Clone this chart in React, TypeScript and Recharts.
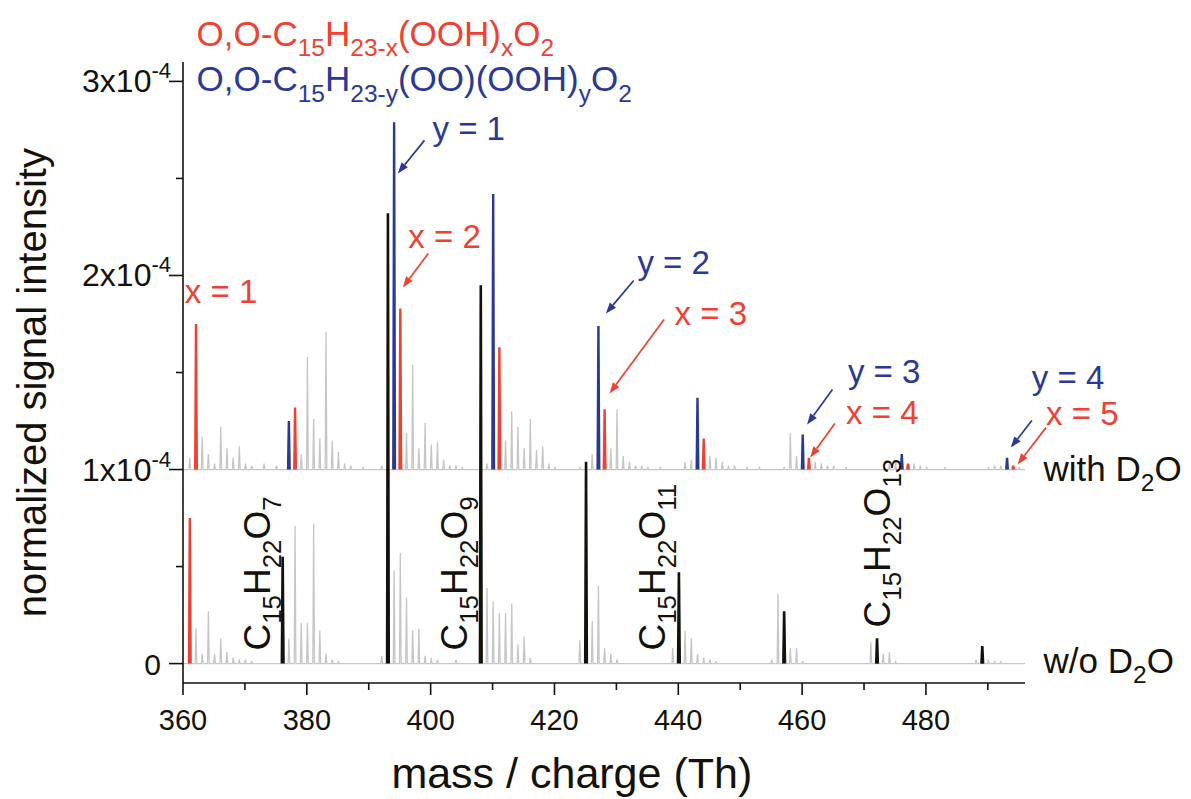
import React from "react";
import { LineChart, Line, XAxis, YAxis, ReferenceLine, ReferenceDot } from "recharts";

const FONT = "'Liberation Sans', Arial, Helvetica, sans-serif";
const RED = "#ef4131";
const BLUE = "#2a3896";
const GRAY = "#c6c6c6";
const BLACK = "#14110a";

// intensities in units of 1x10^-4, measured from each trace's own baseline
const withD2OOffset = 1;

const withD2OGray: [number, number][] = [
  [361.1, 0.06], [363.1, 0.17], [364.1, 0.08], [365.1, 0.03], [366.1, 0.22], [367.1, 0.11],
  [368.1, 0.06], [369.1, 0.12], [370.1, 0.03], [371.1, 0.02], [373.1, 0.03], [375.1, 0.02],
  [379.1, 0.08], [380.1, 0.58], [381.1, 0.26], [382.1, 0.16], [383.1, 0.71], [384.1, 0.15],
  [385.1, 0.09], [386.1, 0.03], [387.1, 0.02], [389.1, 0.01], [392.1, 0.02], [396.1, 0.19],
  [397.1, 0.54], [398.1, 0.11], [399.1, 0.24], [400.1, 0.13], [401.1, 0.14], [402.1, 0.05],
  [403.1, 0.02], [404.1, 0.02], [405.1, 0.01], [409.1, 0.03], [412.1, 0.15], [413.1, 0.3],
  [414.1, 0.22], [415.1, 0.11], [416.1, 0.26], [417.1, 0.1], [418.1, 0.12], [419.1, 0.03],
  [420.1, 0.01], [424.1, 0.01], [426.1, 0.08], [429.1, 0.11], [430.1, 0.31], [431.1, 0.07],
  [432.1, 0.04], [433.1, 0.02], [434.1, 0.02], [435.1, 0.01], [437.1, 0.01], [441.1, 0.04],
  [442.1, 0.05], [445.1, 0.07], [446.1, 0.06], [447.1, 0.04], [448.1, 0.02], [449.1, 0.02],
  [451.1, 0.01], [453.1, 0.01], [457.1, 0.01], [458.1, 0.19], [459.1, 0.07], [462.1, 0.04],
  [463.1, 0.03], [464.1, 0.02], [465.1, 0.02], [467.1, 0.01], [474.1, 0.03], [475.1, 0.04],
  [478.1, 0.03], [479.1, 0.02], [480.1, 0.01], [483.1, 0.01], [490.1, 0.01], [491.1, 0.02],
  [492.1, 0.02], [495.1, 0.01],
];
const withD2ORed: [number, number][] = [
  [362.1, 0.75], [378.1, 0.32], [395.1, 0.83], [411.1, 0.63], [428.1, 0.31],
  [444.1, 0.16], [461.1, 0.06], [477.1, 0.03], [494.1, 0.02],
];
const withD2OBlue: [number, number][] = [
  [377.1, 0.25], [394.1, 1.79], [410.1, 1.42], [427.1, 0.74], [443.1, 0.37],
  [460.1, 0.18], [476.1, 0.08], [493.1, 0.06],
];

const woD2OGray: [number, number][] = [
  [362.1, 0.18], [363.1, 0.05], [364.1, 0.27], [365.1, 0.05], [366.1, 0.13], [367.1, 0.06],
  [368.1, 0.03], [369.1, 0.02], [370.1, 0.02], [371.1, 0.01], [377.1, 0.13], [378.1, 0.71],
  [379.1, 0.21], [380.1, 0.21], [381.1, 0.72], [382.1, 0.17], [383.1, 0.05], [384.1, 0.02],
  [385.1, 0.01], [392.1, 0.04], [394.1, 0.48], [395.1, 0.57], [396.1, 0.34], [397.1, 0.17],
  [398.1, 0.18], [399.1, 0.04], [400.1, 0.03], [401.1, 0.02], [404.1, 0.02], [409.1, 0.39],
  [410.1, 0.32], [411.1, 0.26], [412.1, 0.26], [413.1, 0.31], [414.1, 0.1], [415.1, 0.14],
  [416.1, 0.03], [424.1, 0.12], [426.1, 0.22], [427.1, 0.4], [428.1, 0.08], [429.1, 0.05],
  [430.1, 0.02], [439.1, 0.08], [441.1, 0.17], [442.1, 0.13], [443.1, 0.05], [444.1, 0.03],
  [445.1, 0.02], [446.1, 0.01], [455.1, 0.02], [456.1, 0.36], [458.1, 0.08], [459.1, 0.08],
  [460.1, 0.01], [471.1, 0.11], [473.1, 0.05], [474.1, 0.06], [475.1, 0.01], [488.1, 0.02],
  [490.1, 0.02], [491.1, 0.01], [492.1, 0.01],
];
const woD2ORed: [number, number][] = [[361.1, 0.75]];
const woD2OBlack: [number, number][] = [
  [376.1, 0.55], [393.1, 2.32], [408.1, 1.95], [425.1, 1.04], [440.1, 0.47],
  [457.1, 0.27], [472.1, 0.13], [489.1, 0.09],
];

const mzDomain: [number, number] = [360, 496];
const yDomain: [number, number] = [-0.1, 3.1];
const xTicks = [360, 370, 380, 390, 400, 410, 420, 430, 440, 450, 460, 470, 480, 490];
const yTicks = [0, 0.5, 1, 1.5, 2, 2.5, 3];

// text: alternating normal / subscript pieces
type Note = { mz: number; v: number; parts: string[]; color: string; size: number; rotate?: boolean; anchor?: string };
const notes: Note[] = [
  { mz: 362.2, v: 3.185, parts: ["O,O-C", "15", "H", "23-x", "(OOH)", "x", "O", "2"], color: RED, size: 35 },
  { mz: 362.2, v: 2.95, parts: ["O,O-C", "15", "H", "23-y", "(OO)(OOH)", "y", "O", "2"], color: BLUE, size: 35 },
  { mz: 360.3, v: 1.856, parts: ["x = 1"], color: RED, size: 33 },
  { mz: 400.3, v: 2.696, parts: ["y = 1"], color: BLUE, size: 33 },
  { mz: 396.4, v: 2.139, parts: ["x = 2"], color: RED, size: 33 },
  { mz: 433.4, v: 2.005, parts: ["y = 2"], color: BLUE, size: 33 },
  { mz: 439.4, v: 1.747, parts: ["x = 3"], color: RED, size: 33 },
  { mz: 467.4, v: 1.448, parts: ["y = 3"], color: BLUE, size: 33 },
  { mz: 467.1, v: 1.237, parts: ["x = 4"], color: RED, size: 33 },
  { mz: 497.1, v: 1.415, parts: ["y = 4"], color: BLUE, size: 33 },
  { mz: 499.4, v: 1.23, parts: ["x = 5"], color: RED, size: 33 },
  { mz: 499.0, v: 0.943, parts: ["with D", "2", "O"], color: BLACK, size: 35 },
  { mz: 499.0, v: -0.046, parts: ["w/o D", "2", "O"], color: BLACK, size: 35 },
  { mz: 374.0, v: 0.067, parts: ["C", "15", "H", "22", "O", "7"], color: BLACK, size: 37, rotate: true },
  { mz: 405.9, v: 0.067, parts: ["C", "15", "H", "22", "O", "9"], color: BLACK, size: 37, rotate: true },
  { mz: 437.8, v: 0.067, parts: ["C", "15", "H", "22", "O", "11"], color: BLACK, size: 37, rotate: true },
  { mz: 474.2, v: 0.186, parts: ["C", "15", "H", "22", "O", "13"], color: BLACK, size: 37, rotate: true },
  { mz: 422.8, v: -0.64, parts: ["mass / charge (Th)"], color: BLACK, size: 43, anchor: "middle" },
  { mz: 337.9, v: 1.448, parts: ["normalized signal intensity"], color: BLACK, size: 40, rotate: true, anchor: "middle" },
];

type Arrow = { from: [number, number]; to: [number, number]; color: string };
const arrows: Arrow[] = [
  { from: [399.0, 2.696], to: [394.7, 2.526], color: BLUE },
  { from: [399.6, 2.113], to: [395.5, 1.938], color: RED },
  { from: [432.8, 1.974], to: [428.3, 1.804], color: BLUE },
  { from: [437.7, 1.773], to: [428.9, 1.392], color: RED },
  { from: [464.9, 1.412], to: [460.8, 1.232], color: BLUE },
  { from: [465.3, 1.237], to: [461.3, 1.062], color: RED },
  { from: [497.1, 1.253], to: [493.7, 1.113], color: BLUE },
  { from: [499.4, 1.216], to: [494.8, 1.026], color: RED },
];

const HALF = 0.13;

// isolated sticks, separated by null gaps
const sticks = (peaks: [number, number][], base: number) =>
  peaks.flatMap(([mz, v]) => [
    { mz: mz - HALF, v: base },
    { mz, v: base + v },
    { mz: mz + HALF, v: base },
    { mz: mz + HALF + 0.01, v: null },
  ]);

// continuous trace with baseline across the whole range
const trace = (peaks: [number, number][], base: number) => [
  { mz: mzDomain[0], v: base },
  ...[...peaks].sort((a, b) => a[0] - b[0]).flatMap(([mz, v]) => [
    { mz: mz - HALF, v: base },
    { mz, v: base + v },
    { mz: mz + HALF, v: base },
  ]),
  { mz: mzDomain[1], v: base },
];

const richText = (parts: string[], size: number) => {
  let shift = 0;
  return parts.map((t, i) => {
    const sub = i % 2 === 1;
    const target = sub ? size * 0.3 : 0;
    const dy = target - shift;
    shift = target;
    return (
      <tspan key={i} dy={dy} fontSize={sub ? size * 0.7 : size}>
        {t}
      </tspan>
    );
  });
};

const noteShape = (n: Note) => (p: any) => (
  <text
    x={p.cx}
    y={p.cy}
    fill={n.color}
    fontFamily={FONT}
    fontSize={n.size}
    textAnchor={n.anchor || "start"}
    transform={n.rotate ? `rotate(-90 ${p.cx} ${p.cy})` : undefined}
  >
    {richText(n.parts, n.size)}
  </text>
);

const arrowShape = (color: string) => (p: any) => {
  const { x1, y1, x2, y2 } = p;
  const ang = Math.atan2(y2 - y1, x2 - x1);
  const L = 11;
  const W = 4;
  const bx = x2 - L * Math.cos(ang);
  const by = y2 - L * Math.sin(ang);
  const nx = -Math.sin(ang) * W;
  const ny = Math.cos(ang) * W;
  return (
    <g>
      <line x1={x1} y1={y1} x2={bx} y2={by} stroke={color} strokeWidth={1.7} />
      <polygon points={`${x2},${y2} ${bx + nx},${by + ny} ${bx - nx},${by - ny}`} fill={color} />
    </g>
  );
};

const XTick = (p: any) => {
  const major = p.payload.value % 20 === 0;
  return (
    <g>
      <line x1={p.x} y1={p.y} x2={p.x} y2={p.y + (major ? 12 : 7)} stroke={BLACK} strokeWidth={1.6} />
      {major && (
        <text x={p.x} y={p.y + 47} textAnchor="middle" fontFamily={FONT} fontSize={29} fill={BLACK}>
          {p.payload.value}
        </text>
      )}
    </g>
  );
};

const YTick = (p: any) => {
  const val = p.payload.value;
  const major = Number.isInteger(val);
  return (
    <g>
      <line x1={p.x - (major ? 14 : 7)} y1={p.y} x2={p.x} y2={p.y} stroke={BLACK} strokeWidth={1.6} />
      {major && val === 0 && (
        <text x={p.x - 22} y={p.y + 11} textAnchor="end" fontFamily={FONT} fontSize={30} fill={BLACK}>
          0
        </text>
      )}
      {major && val !== 0 && (
        <text x={p.x - 12} y={p.y + 11} textAnchor="end" fontFamily={FONT} fontSize={32} fill={BLACK}>
          {`${val}x10`}
          <tspan dy={-14} fontSize={22}>-4</tspan>
        </text>
      )}
    </g>
  );
};

const lineProps = {
  dataKey: "v",
  type: "linear" as const,
  dot: false,
  activeDot: false,
  isAnimationActive: false,
  connectNulls: false,
};

export default function App() {
  return (
    <div style={{ background: "#fff" }}>
      <LineChart width={1183} height={791} margin={{ top: 54, right: 166, bottom: 56, left: 75 }}>
        <XAxis
          type="number"
          dataKey="mz"
          domain={mzDomain}
          allowDataOverflow
          ticks={xTicks}
          interval={0}
          height={60}
          tickSize={0}
          tickMargin={0}
          tickLine={false}
          tick={XTick}
          axisLine={{ stroke: BLACK, strokeWidth: 1.6 }}
        />
        <YAxis
          type="number"
          domain={yDomain}
          allowDataOverflow
          ticks={yTicks}
          interval={0}
          width={100}
          tickSize={0}
          tickMargin={0}
          tickLine={false}
          tick={YTick}
          axisLine={{ stroke: BLACK, strokeWidth: 1.6 }}
        />
        <Line {...lineProps} data={trace(woD2OGray, 0)} stroke={GRAY} strokeWidth={1.3} />
        <Line {...lineProps} data={trace(withD2OGray, withD2OOffset)} stroke={GRAY} strokeWidth={1.3} />
        <Line {...lineProps} data={sticks(woD2ORed, 0)} stroke={RED} strokeWidth={2.4} />
        <Line {...lineProps} data={sticks(withD2ORed, withD2OOffset)} stroke={RED} strokeWidth={2.4} />
        <Line {...lineProps} data={sticks(withD2OBlue, withD2OOffset)} stroke={BLUE} strokeWidth={2.4} />
        <Line {...lineProps} data={sticks(woD2OBlack, 0)} stroke={BLACK} strokeWidth={2.6} />
        {arrows.map((a, i) => (
          <ReferenceLine
            key={`a${i}`}
            segment={[{ x: a.from[0], y: a.from[1] }, { x: a.to[0], y: a.to[1] }]}
            ifOverflow="visible"
            shape={arrowShape(a.color)}
          />
        ))}
        {notes.map((n, i) => (
          <ReferenceDot key={`n${i}`} x={n.mz} y={n.v} r={0} ifOverflow="visible" shape={noteShape(n)} />
        ))}
      </LineChart>
    </div>
  );
}
